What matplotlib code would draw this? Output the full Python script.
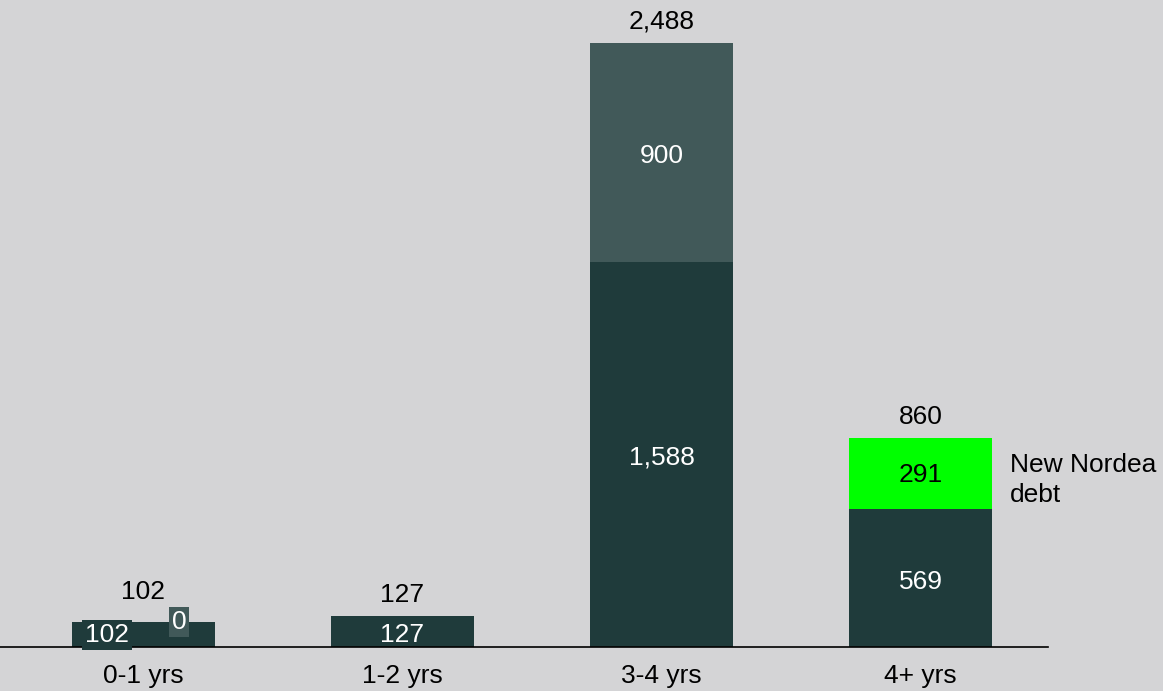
import matplotlib.pyplot as plt
import numpy as np

plt.rcParams['font.family'] = ['Liberation Sans', 'DejaVu Sans']

categories = ["0-1 yrs", "1-2 yrs", "3-4 yrs", "4+ yrs"]
base = [102, 127, 1588, 569]
upper = [0, 0, 900, 0]
new_debt = [0, 0, 0, 291]
totals = [102, 127, 2488, 860]

bg = "#d4d4d6"
dark = "#1f3b3b"
mid = "#415959"
green = "#00ff00"

fig = plt.figure(figsize=(11.63, 6.91), dpi=100, facecolor=bg)
ax = fig.add_axes([0.0, 0.0637, 0.9011, 0.874])
ax.set_facecolor(bg)

x = np.arange(len(categories))
w = 0.552
ax.bar(x, base, w, color=dark)
ax.bar(x, upper, w, bottom=base, color=mid)
bot2 = np.array(base) + np.array(upper)
ax.bar(x, new_debt, w, bottom=bot2, color=green)

fs = 19
# segment labels
for i in range(len(x)):
    if i == 0:
        # small bar: labels drawn in boxes beside each other
        ax.text(x[i] - 0.141, 49, f"{base[i]:,}", ha="center", va="center",
                color="white", fontsize=fs,
                bbox=dict(boxstyle="square,pad=0.12", fc=dark, ec="none"))
        ax.text(x[i] + 0.137, 103, f"{upper[i]:,}", ha="center", va="center",
                color="white", fontsize=fs,
                bbox=dict(boxstyle="square,pad=0.12", fc=mid, ec="none"))
        continue
    ax.text(x[i], base[i] / 2 - 15, f"{base[i]:,}", ha="center", va="center",
            color="white", fontsize=fs)
    if upper[i] > 0:
        ax.text(x[i], base[i] + upper[i] / 2 - 15, f"{upper[i]:,}", ha="center",
                va="center", color="white", fontsize=fs)
    if new_debt[i] > 0:
        ax.text(x[i], bot2[i] + new_debt[i] / 2 - 5, f"{new_debt[i]:,}", ha="center",
                va="center", color="black", fontsize=fs)

for i in range(len(x)):
    yy = 226 if i == 0 else totals[i] + 88
    ax.text(x[i], yy, f"{totals[i]:,}", ha="center", va="center",
            color="black", fontsize=fs, clip_on=False)

ax.text(3.346, bot2[3] + new_debt[3] / 2 - 26, "New Nordea\ndebt", ha="left", va="center",
        fontsize=fs, linespacing=1.3, clip_on=False)

ax.set_xlim(-0.554, 3.492)
ax.set_ylim(0, 2488)
ax.set_xticks(x)
ax.set_xticklabels(categories, fontsize=fs)
ax.tick_params(axis="x", length=0, pad=12)
ax.set_yticks([])
for s in ["top", "right", "left"]:
    ax.spines[s].set_visible(False)
ax.spines["bottom"].set_color("black")
ax.spines["bottom"].set_linewidth(1.2)

fig.savefig("out.png", dpi=100, facecolor=bg)
